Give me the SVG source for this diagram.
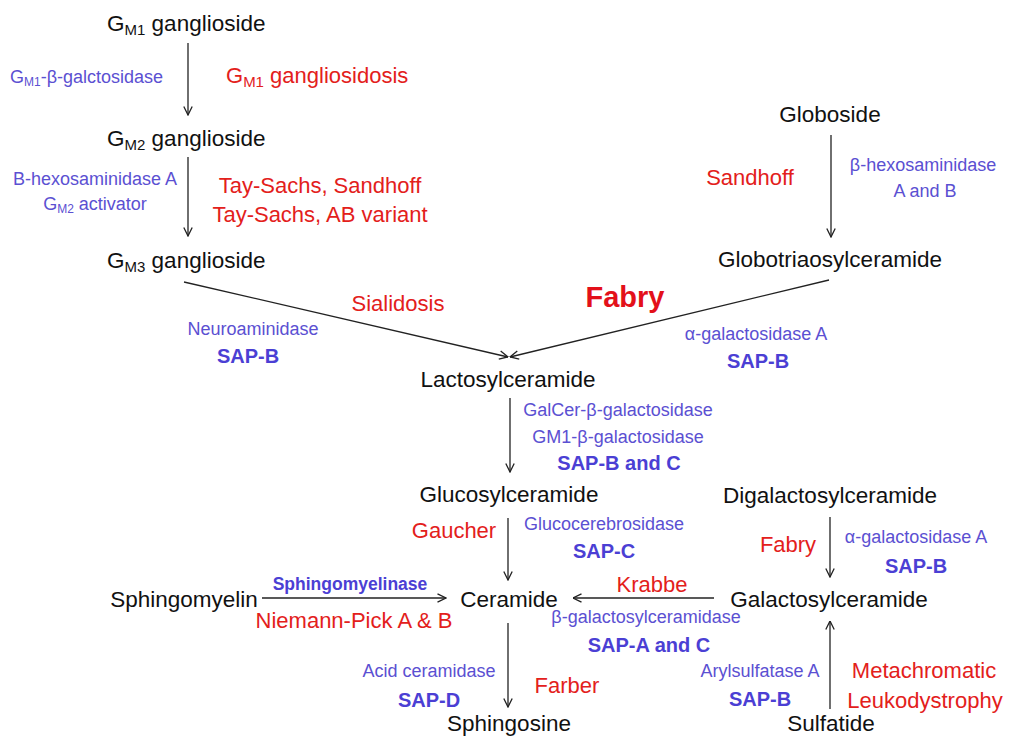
<svg xmlns="http://www.w3.org/2000/svg" width="1011" height="737" viewBox="0 0 1011 737">
<defs>
<style>
text{font-family:"Liberation Sans",Arial,sans-serif}
.n{font-size:22.5px;fill:#111}
.r{font-size:22px;fill:#e3201b}
.p{font-size:18px;fill:#5b50d2}
.pb{font-size:20px;font-weight:bold;fill:#4b3fd4}
.fab{font-size:29px;font-weight:bold;fill:#e3101a}
.sm{font-size:12px}
.sn{font-size:15px}
.c line{stroke:#222;stroke-width:1.3;fill:none;marker-end:url(#a)}
</style>
<marker id="a" viewBox="0 0 10 10" refX="9.5" refY="5" markerWidth="10" markerHeight="10" markerUnits="userSpaceOnUse" orient="auto">
<path d="M1,0.8 L9.5,5 L1,9.2" fill="none" stroke="#222" stroke-width="1.3"/>
</marker>
</defs>
<rect width="1011" height="737" fill="#fff"/>

<g class="c" id="connectors">
<line x1="188" y1="43" x2="188" y2="115"/>
<line x1="188" y1="157" x2="188" y2="236"/>
<line x1="831" y1="135" x2="831" y2="237"/>
<line x1="184" y1="282" x2="508" y2="357"/>
<line x1="829" y1="280" x2="510" y2="357"/>
<line x1="510" y1="398" x2="510" y2="472"/>
<line x1="508" y1="518" x2="508" y2="580"/>
<line x1="508" y1="623" x2="508" y2="707"/>
<line x1="262" y1="598" x2="446" y2="598"/>
<line x1="714" y1="598" x2="573" y2="598"/>
<line x1="830" y1="517" x2="830" y2="577"/>
<line x1="830" y1="709" x2="830" y2="621"/>
</g>

<g id="gm1"><text class="n" x="107" y="31">G<tspan class="sn" dy="4">M1</tspan><tspan dy="-4"> ganglioside</tspan></text></g>
<g id="gm2"><text class="n" x="107" y="146">G<tspan class="sn" dy="4">M2</tspan><tspan dy="-4"> ganglioside</tspan></text></g>
<g id="gm3"><text class="n" x="107" y="268">G<tspan class="sn" dy="4">M3</tspan><tspan dy="-4"> ganglioside</tspan></text></g>
<g id="globoside"><text class="n" x="830" y="122" text-anchor="middle">Globoside</text></g>
<g id="globotriaosylceramide"><text class="n" x="830" y="267" text-anchor="middle">Globotriaosylceramide</text></g>
<g id="lactosylceramide"><text class="n" x="508" y="387" text-anchor="middle">Lactosylceramide</text></g>
<g id="glucosylceramide"><text class="n" x="509" y="502" text-anchor="middle">Glucosylceramide</text></g>
<g id="digalactosylceramide"><text class="n" x="830" y="503" text-anchor="middle">Digalactosylceramide</text></g>
<g id="sphingomyelin"><text class="n" x="184" y="607" text-anchor="middle">Sphingomyelin</text></g>
<g id="ceramide"><text class="n" x="509" y="607" text-anchor="middle">Ceramide</text></g>
<g id="galactosylceramide"><text class="n" x="829" y="607" text-anchor="middle">Galactosylceramide</text></g>
<g id="sphingosine"><text class="n" x="509" y="731" text-anchor="middle">Sphingosine</text></g>
<g id="sulfatide"><text class="n" x="831" y="731" text-anchor="middle">Sulfatide</text></g>

<g id="labels">
<text class="p" x="10" y="83">G<tspan class="sm" dy="3">M1</tspan><tspan dy="-3">-β-galctosidase</tspan></text>
<text class="r" x="226" y="83">G<tspan class="sn" dy="4">M1</tspan><tspan dy="-4"> gangliosidosis</tspan></text>
<text class="p" x="95" y="185" text-anchor="middle">B-hexosaminidase A</text>
<text class="p" x="95" y="210" text-anchor="middle">G<tspan class="sm" dy="3">M2</tspan><tspan dy="-3"> activator</tspan></text>
<text class="r" x="320" y="193" text-anchor="middle">Tay-Sachs, Sandhoff</text>
<text class="r" x="320" y="222" text-anchor="middle">Tay-Sachs, AB variant</text>
<text class="r" x="750" y="185" text-anchor="middle">Sandhoff</text>
<text class="p" x="923" y="171" text-anchor="middle">β-hexosaminidase</text>
<text class="p" x="925" y="197" text-anchor="middle">A and B</text>
<text class="r" x="398" y="311" text-anchor="middle">Sialidosis</text>
<text class="fab" x="625" y="307" text-anchor="middle">Fabry</text>
<text class="p" x="253" y="335" text-anchor="middle">Neuroaminidase</text>
<text class="pb" x="248" y="363" text-anchor="middle">SAP-B</text>
<text class="p" x="756" y="340" text-anchor="middle">α-galactosidase A</text>
<text class="pb" x="758" y="368" text-anchor="middle">SAP-B</text>
<text class="p" x="618" y="416" text-anchor="middle">GalCer-β-galactosidase</text>
<text class="p" x="618" y="443" text-anchor="middle">GM1-β-galactosidase</text>
<text class="pb" x="619" y="470" text-anchor="middle">SAP-B and C</text>
<text class="r" x="454" y="538" text-anchor="middle">Gaucher</text>
<text class="p" x="604" y="530" text-anchor="middle">Glucocerebrosidase</text>
<text class="pb" x="604" y="558" text-anchor="middle">SAP-C</text>
<text class="r" x="788" y="552" text-anchor="middle">Fabry</text>
<text class="p" x="916" y="543" text-anchor="middle">α-galactosidase A</text>
<text class="pb" x="916" y="573" text-anchor="middle">SAP-B</text>
<text x="350" y="590" text-anchor="middle" style="font-size:17.5px;font-weight:bold;fill:#4b3fd4">Sphingomyelinase</text>
<text class="r" x="354" y="628" text-anchor="middle">Niemann-Pick A &amp; B</text>
<text class="r" x="652" y="592" text-anchor="middle">Krabbe</text>
<text class="p" x="646" y="623" text-anchor="middle">β-galactosylceramidase</text>
<text class="pb" x="649" y="652" text-anchor="middle">SAP-A and C</text>
<text class="p" x="429" y="677" text-anchor="middle">Acid ceramidase</text>
<text class="pb" x="429" y="707" text-anchor="middle">SAP-D</text>
<text class="r" x="567" y="693" text-anchor="middle">Farber</text>
<text class="p" x="760" y="677" text-anchor="middle">Arylsulfatase A</text>
<text class="pb" x="760" y="706" text-anchor="middle">SAP-B</text>
<text class="r" x="924" y="678" text-anchor="middle">Metachromatic</text>
<text class="r" x="925" y="708" text-anchor="middle">Leukodystrophy</text>
</g>
</svg>
